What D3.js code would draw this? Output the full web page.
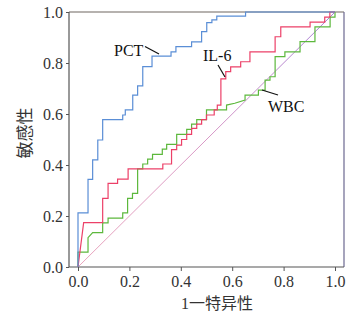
<!DOCTYPE html>
<html><head><meta charset="utf-8">
<script src="https://cdn.jsdelivr.net/npm/d3@7"></script>
<style>html,body{margin:0;padding:0;background:#fff;}svg{display:block;}</style>
</head><body>
<svg id="c" width="363" height="322"></svg>
<script>
const xTicks = [0, 0.2, 0.4, 0.6, 0.8, 1.0];
const yTicks = [0, 0.2, 0.4, 0.6, 0.8, 1.0];
const xTitle = "1一特异性";
const yTitle = "敏感性";
const seriesNames = ["PCT", "IL-6", "WBC"];

const pctFpr = [0,0,0.039,0.039,0.057,0.057,0.077,0.077,0.096,0.096,0.174,0.174,0.184,0.184,0.213,0.213,0.232,0.232,0.252,0.252,0.288,0.288,0.362,0.362,0.381,0.381,0.442,0.442,0.481,0.481,0.501,0.501,0.521,0.521,0.54,0.54,0.652,0.652,1];
const pctTpr = [0,0.212,0.212,0.344,0.344,0.42,0.42,0.498,0.498,0.578,0.578,0.596,0.596,0.616,0.616,0.674,0.674,0.71,0.71,0.786,0.786,0.827,0.827,0.844,0.844,0.864,0.864,0.883,0.883,0.923,0.923,0.958,0.958,0.969,0.969,0.984,0.984,1,1];

const il6Fpr = [0,0.022,0.096,0.096,0.117,0.117,0.154,0.154,0.195,0.195,0.33,0.33,0.364,0.364,0.384,0.384,0.403,0.403,0.423,0.423,0.442,0.442,0.462,0.462,0.481,0.481,0.5,0.5,0.53,0.53,0.542,0.542,0.556,0.556,0.575,0.575,0.594,0.594,0.633,0.633,0.669,0.669,0.767,0.767,0.789,0.789,0.903,0.903,0.96,0.96,0.98,0.98,1];
const il6Tpr = [0,0.174,0.174,0.269,0.269,0.328,0.328,0.345,0.345,0.385,0.385,0.404,0.404,0.46,0.46,0.478,0.478,0.5,0.5,0.52,0.52,0.544,0.544,0.56,0.56,0.578,0.578,0.596,0.596,0.616,0.616,0.635,0.635,0.738,0.738,0.766,0.766,0.785,0.785,0.805,0.805,0.844,0.844,0.903,0.903,0.942,0.942,0.96,0.96,0.98,0.98,1,1];

const wbcFpr = [0,0,0.039,0.039,0.057,0.096,0.096,0.117,0.117,0.174,0.174,0.193,0.193,0.212,0.212,0.232,0.232,0.252,0.252,0.271,0.271,0.29,0.29,0.328,0.328,0.345,0.345,0.384,0.384,0.423,0.423,0.442,0.442,0.462,0.462,0.5,0.5,0.578,0.578,0.61,0.65,0.65,0.702,0.702,0.728,0.728,0.747,0.747,0.767,0.767,0.805,0.805,0.864,0.864,0.922,0.922,0.981,0.981,1,1];
const wbcTpr = [0,0.058,0.058,0.115,0.135,0.135,0.173,0.173,0.192,0.192,0.212,0.212,0.269,0.269,0.289,0.289,0.385,0.385,0.404,0.404,0.423,0.423,0.442,0.442,0.462,0.462,0.481,0.481,0.52,0.52,0.54,0.54,0.56,0.56,0.578,0.578,0.616,0.616,0.635,0.642,0.655,0.674,0.674,0.694,0.694,0.733,0.733,0.746,0.746,0.825,0.825,0.844,0.844,0.884,0.884,0.942,0.942,0.98,0.98,1];

const refFpr = [0, 1];
const refTpr = [0, 1];

const svg = d3.select("#c");
const x = d3.scaleLinear().domain([0, 1]).range([78, 335]);
const y = d3.scaleLinear().domain([0, 1]).range([267, 12]);
const frame = {l: 69, r: 344, t: 12, b: 267};
const serif = "'Liberation Serif','Times New Roman','Noto Sans CJK SC',serif";

const defs = svg.append("defs");
const g = defs.append("linearGradient").attr("id", "diag").attr("gradientUnits", "userSpaceOnUse")
  .attr("x1", x(0)).attr("y1", y(0)).attr("x2", x(1)).attr("y2", y(1));
g.append("stop").attr("offset", "0").attr("stop-color", "#e79bb5");
g.append("stop").attr("offset", "0.5").attr("stop-color", "#d48cbf");
g.append("stop").attr("offset", "1").attr("stop-color", "#9a6fd0");

// frame
svg.append("line").attr("x1", frame.l).attr("x2", frame.r).attr("y1", frame.t).attr("y2", frame.t)
  .attr("stroke", "#6e6660").attr("stroke-width", 1.2);
svg.append("line").attr("x1", frame.r).attr("x2", frame.r).attr("y1", frame.t).attr("y2", frame.b)
  .attr("stroke", "#6c6890").attr("stroke-width", 1.2);

// axes
const xAxis = d3.axisBottom(x).tickValues(xTicks).tickFormat(d3.format(".1f")).tickSize(4).tickSizeOuter(0);
const yAxis = d3.axisLeft(y).tickValues(yTicks).tickFormat(d3.format(".1f")).tickSize(3).tickSizeOuter(0);
const gx = svg.append("g").attr("transform", `translate(0,${frame.b})`).call(xAxis);
gx.select(".domain").attr("d", `M${frame.l},0H${frame.r}`).attr("stroke", "#555").attr("stroke-width", 1.2);
gx.selectAll(".tick line").attr("stroke", "#555");
gx.selectAll(".tick text").attr("y", 9).attr("font-family", serif).attr("font-size", 16).attr("fill", "#333");
const gy = svg.append("g").attr("transform", `translate(${frame.l},0)`).call(yAxis);
gy.select(".domain").attr("d", `M0,${frame.t}V${frame.b}`).attr("stroke", "#555").attr("stroke-width", 1.2);
gy.selectAll(".tick line").attr("stroke", "#555");
gy.selectAll(".tick text").attr("x", -6).attr("font-family", serif).attr("font-size", 16).attr("fill", "#333");

const line = d3.line().x(d => x(d[0])).y(d => y(d[1]));
const zip = (a, b) => a.map((v, i) => [v, b[i]]);

svg.append("path").attr("d", line(zip(refFpr, refTpr))).attr("fill", "none")
  .attr("stroke", "url(#diag)").attr("stroke-width", 0.9);
svg.append("path").attr("d", line(zip(wbcFpr, wbcTpr))).attr("fill", "none")
  .attr("stroke", "#5cb83c").attr("stroke-width", 1.2);
svg.append("path").attr("d", line(zip(il6Fpr, il6Tpr))).attr("fill", "none")
  .attr("stroke", "#ec4068").attr("stroke-width", 1.2);
svg.append("path").attr("d", line(zip(pctFpr, pctTpr))).attr("fill", "none")
  .attr("stroke", "#5a8ed6").attr("stroke-width", 1.2);

// labels with leaders
const labels = [
  {t: seriesNames[0], tx: 114, ty: 56, x1: 145, y1: 46.5, x2: 159, y2: 54},
  {t: seriesNames[1], tx: 203, ty: 61, x1: 218, y1: 65, x2: 225, y2: 77},
  {t: seriesNames[2], tx: 268, ty: 112, x1: 262, y1: 90, x2: 278, y2: 95}
];
labels.forEach(l => {
  svg.append("line").attr("x1", l.x1).attr("y1", l.y1).attr("x2", l.x2).attr("y2", l.y2)
    .attr("stroke", "#111").attr("stroke-width", 1.2);
  svg.append("text").attr("x", l.tx).attr("y", l.ty).text(l.t)
    .attr("font-family", serif).attr("font-size", 16).attr("fill", "#111");
});

svg.append("text").attr("x", 217).attr("y", 309).attr("text-anchor", "middle")
  .attr("font-family", serif).attr("font-size", 16).attr("fill", "#333").text(xTitle);
svg.append("text").attr("transform", "translate(31,133) rotate(-90)").attr("text-anchor", "middle")
  .attr("font-family", serif).attr("font-size", 17).attr("fill", "#333").text(yTitle);
</script>
</body></html>
